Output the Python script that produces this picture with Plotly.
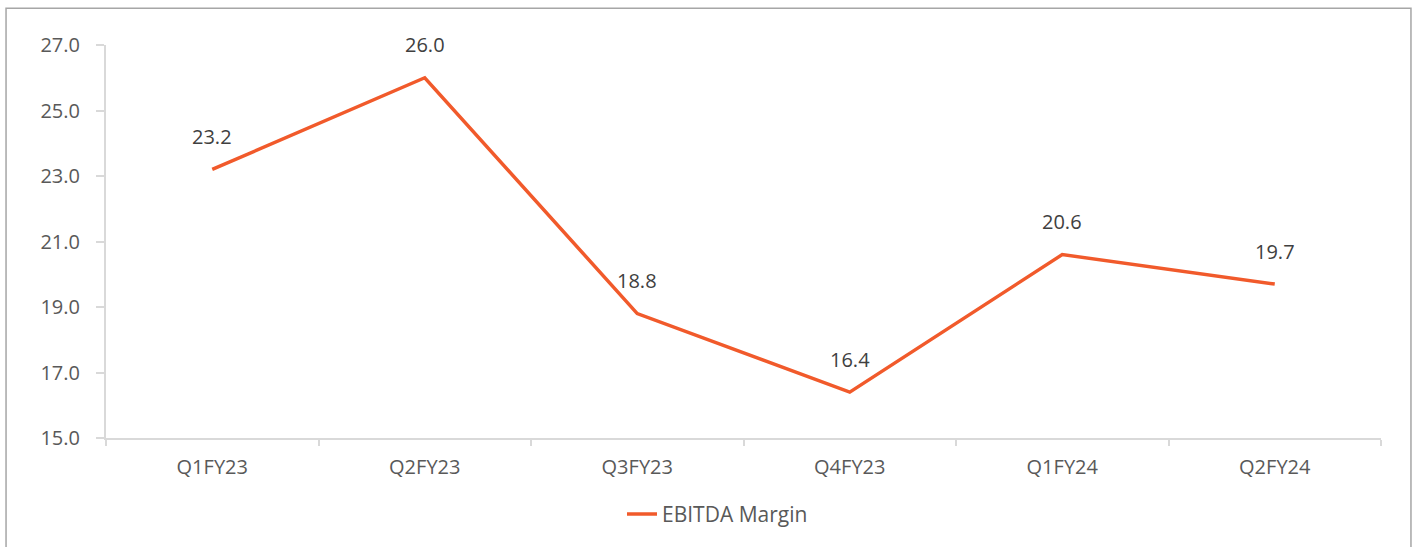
import plotly.graph_objects as go

# Data
quarters = ["Q1FY23", "Q2FY23", "Q3FY23", "Q4FY23", "Q1FY24", "Q2FY24"]
ebitda_margin = [23.2, 26.0, 18.8, 16.4, 20.6, 19.7]
y_ticks = [15.0, 17.0, 19.0, 21.0, 23.0, 25.0, 27.0]

LINE_COLOR = "#F15A2B"
AXIS_COLOR = "#D9D9D9"
TICK_FONT_COLOR = "#595959"
LABEL_COLOR = "#404040"
FONT = "Open Sans, sans-serif"
FONT_SIZE = 20

fig = go.Figure()
fig.add_trace(go.Scatter(
    x=quarters,
    y=ebitda_margin,
    mode="lines",
    name="EBITDA Margin",
    line=dict(color=LINE_COLOR, width=3.5),
))

# data labels above each point
for q, v in zip(quarters, ebitda_margin):
    fig.add_annotation(
        x=q, y=v, text=f"{v:.1f}", showarrow=False, yshift=33,
        font=dict(family=FONT, size=FONT_SIZE, color=LABEL_COLOR),
    )

# outer chart frame
fig.add_shape(
    type="rect", xref="paper", yref="paper",
    x0=-0.0784, x1=1.0235, y0=-0.6, y1=1.0934,
    line=dict(color="#A6A6A6", width=1.5), layer="below",
)

fig.update_layout(
    width=1416,
    height=547,
    paper_bgcolor="white",
    plot_bgcolor="white",
    font=dict(family=FONT, size=FONT_SIZE, color=TICK_FONT_COLOR),
    margin=dict(l=106, r=35, t=45, b=106),
    showlegend=True,
    legend=dict(
        orientation="h",
        x=0.4047, xanchor="left",
        y=-0.194, yanchor="middle",
        font=dict(family=FONT, size=21, color=TICK_FONT_COLOR),
    ),
)

fig.update_xaxes(
    type="category",
    range=[-0.5, 5.5],
    showgrid=False,
    showline=True,
    linecolor=AXIS_COLOR,
    linewidth=2,
    ticks="outside",
    tickson="boundaries",
    ticklen=6,
    tickcolor=AXIS_COLOR,
    tickwidth=2,
    tickfont=dict(family=FONT, size=FONT_SIZE, color=TICK_FONT_COLOR),
    ticklabelstandoff=10,
)
fig.update_yaxes(
    range=[15, 27],
    tickvals=y_ticks,
    tickformat=".1f",
    showgrid=False,
    zeroline=False,
    showline=True,
    linecolor=AXIS_COLOR,
    linewidth=2,
    ticks="outside",
    ticklen=8,
    tickcolor=AXIS_COLOR,
    tickwidth=2,
    tickfont=dict(family=FONT, size=FONT_SIZE, color=TICK_FONT_COLOR),
    ticklabelstandoff=12,
)

# drop the default page margin so the frame near the edges is not clipped
fig.write_html(
    "out.html",
    config={"displayModeBar": False},
    post_script="document.body.style.margin = '0';",
)
